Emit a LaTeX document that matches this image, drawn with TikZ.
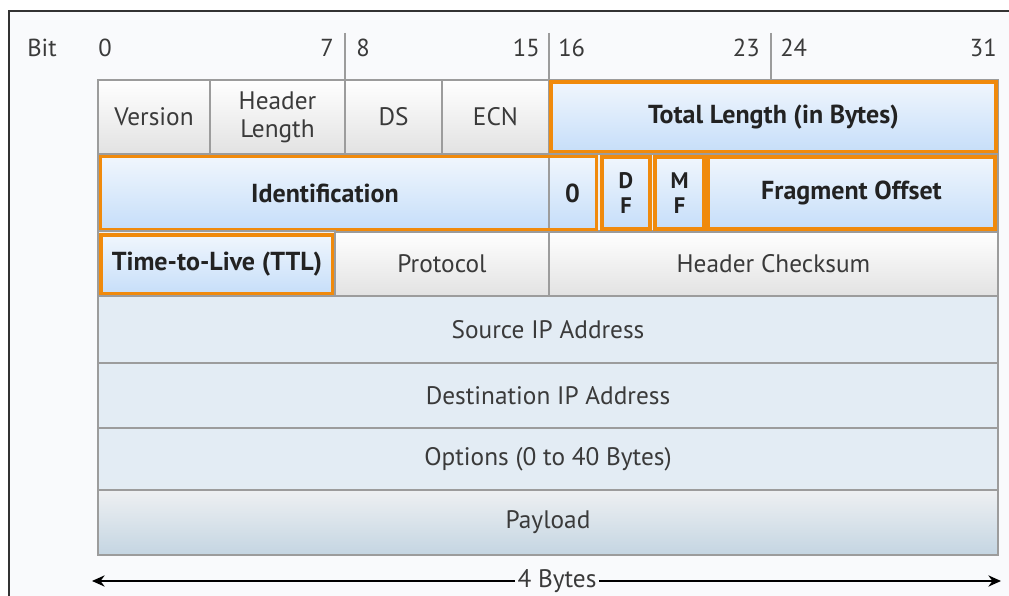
\documentclass[tikz,border=0pt]{standalone}
\usepackage{fontspec}
\setmainfont{PT Sans}
\usetikzlibrary{arrows.meta}
\definecolor{hlorange}{HTML}{F08A0C}
\definecolor{cellline}{HTML}{9C9C9C}
\definecolor{cellgrey}{HTML}{E2E2E2}
\definecolor{hltop}{HTML}{F0F6FD}
\definecolor{hlbottom}{HTML}{C6DEF9}
\definecolor{rowblue}{HTML}{E3ECF4}
\definecolor{paytop}{HTML}{EEF0F2}
\definecolor{paybottom}{HTML}{C4D5E2}
\definecolor{panel}{HTML}{F9FAFC}
\definecolor{txtgrey}{HTML}{3A3A3A}
\definecolor{txtdark}{HTML}{222222}

\begin{document}
\begin{tikzpicture}[x=0.025cm,y=-0.025cm,
        every node/.style={font=\fontsize{18}{20}\selectfont, text=txtgrey},
        cell/.style={draw=cellline, line width=1pt, top color=white, bottom color=cellgrey, inner sep=0pt, align=center},
        bluecell/.style={draw=cellline, line width=1pt, top color=hltop, bottom color=hlbottom, inner sep=0pt, align=center,
            font=\fontsize{18.5}{20}\selectfont\bfseries, text=txtdark},
        hl/.style={bluecell, draw=hlorange, line width=2.4pt},
        flag/.style={hl, font=\fontsize{16}{17.5}\selectfont\bfseries},
        row/.style={draw=cellline, line width=1pt, fill=rowblue, inner sep=0pt, minimum width=22.5cm},
        bitno/.style={inner sep=0pt, font=\fontsize{17.5}{20}\selectfont},
        tick/.style={cellline, line width=0.8pt}]
        % \draw[help lines,step=50] (0,0) grid (1009,596);

        % panel and frame
        \useasboundingbox (0,0) rectangle (1009,596);
        \fill[white] (0,0) rectangle (1009,596);
        \fill[panel] (9,11) rectangle (1009,596);
        \draw[black!80, line width=0.8pt] (9,596) -- (9,11) -- (1009,11);

        % bit numbers
        \node[bitno] (bit) at (42,48) {Bit};
        \node[bitno, anchor=west] (b0) at (98,48) {0};
        \node[bitno, anchor=east] (b7) at (334,48) {7};
        \node[bitno, anchor=west] (b8) at (356,48) {8};
        \node[bitno, anchor=east] (b15) at (540,48) {15};
        \node[bitno, anchor=west] (b16) at (558,48) {16};
        \node[bitno, anchor=east] (b23) at (760,48) {23};
        \node[bitno, anchor=west] (b24) at (780,48) {24};
        \node[bitno, anchor=east] (b31) at (997,48) {31};
        \draw[tick] (345,33) -- (345,80);
        \draw[tick] (549,33) -- (549,80);
        \draw[tick] (771,33) -- (771,80);

        % first word
        \node[cell, minimum width=2.8cm, minimum height=1.85cm] (version) at (154,117) {Version};
        \node[cell, minimum width=3.375cm, minimum height=1.85cm] (hlen) at (277.5,117) {Header\\Length};
        \node[cell, minimum width=2.425cm, minimum height=1.85cm] (ds) at (393.5,117) {DS};
        \node[cell, minimum width=2.675cm, minimum height=1.85cm] (ecn) at (495.5,117) {ECN};
        \draw[cellline, line width=1pt] (549,80) rectangle (998,154);
        \node[hl, minimum width=11.125cm, minimum height=1.75cm] (total) at (773.5,117) {Total Length (in Bytes)};

        % second word
        \draw[cellline, line width=1pt, fill=cellgrey!50] (98,154) rectangle (998,231);
        \node[bluecell, minimum width=11.2cm, minimum height=1.8cm] (ident) at (325,193) {Identification};
        \node[bluecell, minimum width=1.175cm, minimum height=1.8cm] (zero) at (572.5,193) {0};
        \draw[hlorange, line width=2.4pt] (ident.north west) rectangle (zero.south east);
        \node[flag, minimum width=1.2cm, minimum height=1.8cm] (df) at (626,193) {D\\F};
        \node[flag, minimum width=1.225cm, minimum height=1.8cm] (mf) at (679.5,193) {M\\F};
        \node[hl, minimum width=7.175cm, minimum height=1.8cm] (frag) at (851.5,193) {Fragment Offset};

        % third word
        \draw[cellline, line width=1pt, fill=cellgrey!50] (98,231) rectangle (335,296);
        \node[hl, minimum width=5.8cm, minimum height=1.475cm] (ttl) at (217,264.5) {Time-to-Live (TTL)};
        \node[cell, minimum width=5.35cm, minimum height=1.6cm] (proto) at (442,264) {Protocol};
        \node[cell, minimum width=11.225cm, minimum height=1.6cm] (csum) at (773.5,264) {Header Checksum};

        % addresses, options, payload
        \node[row, minimum height=1.675cm] (src) at (548,329.5) {Source IP Address};
        \node[row, minimum height=1.625cm] (dst) at (548,395.5) {Destination IP Address};
        \node[row, minimum height=1.55cm] (opt) at (548,459) {Options (0 to 40 Bytes)};
        \node[row, top color=paytop, bottom color=paybottom, minimum height=1.625cm] (payload) at (548,522.5) {Payload};

        % width arrow
        \coordinate (wl) at (92,581);
        \coordinate (wr) at (1001,581);
        \draw[{Stealth[length=9pt,width=8pt]}-{Stealth[length=9pt,width=8pt]}, line width=1.2pt, black] (wl) -- (wr);
        \node[fill=panel, inner sep=2pt] (bytes) at (557,581) {4 Bytes};

\end{tikzpicture}
\end{document}
